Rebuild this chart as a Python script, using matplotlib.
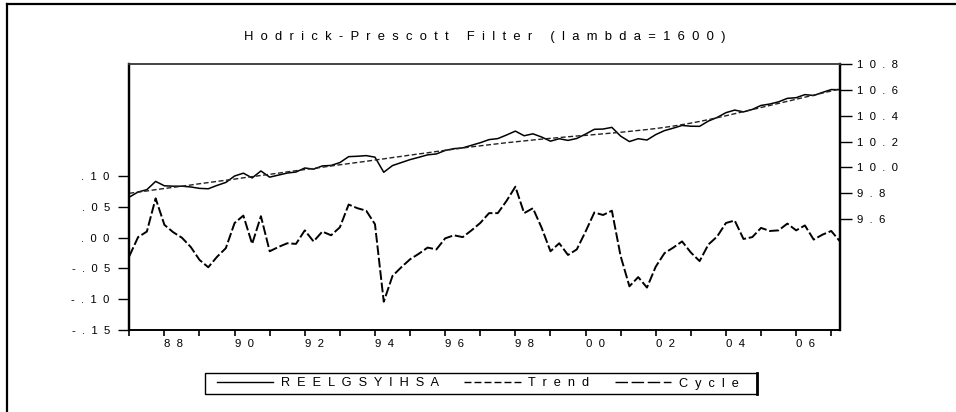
import numpy as np
import matplotlib
matplotlib.use('Agg')
import matplotlib.pyplot as plt
from matplotlib.lines import Line2D
from matplotlib.patches import Rectangle

plt.rcParams['font.family'] = ['Liberation Sans', 'DejaVu Sans']
plt.rcParams['lines.scale_dashes'] = False

# quarterly data, 1987Q1 - 2007Q2
start_year = 1987
series = [9.770, 9.810, 9.828, 9.892, 9.858, 9.855, 9.855, 9.849, 9.838, 9.835,
          9.861, 9.884, 9.934, 9.956, 9.919, 9.973, 9.925, 9.941, 9.957, 9.965,
          9.996, 9.987, 10.012, 10.016, 10.038, 10.084, 10.087, 10.092, 10.080, 9.963,
          10.015, 10.038, 10.061, 10.079, 10.098, 10.105, 10.132, 10.146, 10.152, 10.172,
          10.192, 10.216, 10.224, 10.252, 10.282, 10.246, 10.261, 10.236, 10.204, 10.223,
          10.210, 10.225, 10.259, 10.296, 10.298, 10.311, 10.243, 10.201, 10.223, 10.213,
          10.255, 10.286, 10.305, 10.326, 10.320, 10.319, 10.360, 10.388, 10.425, 10.445,
          10.431, 10.450, 10.481, 10.492, 10.509, 10.536, 10.541, 10.565, 10.558, 10.582,
          10.604, 10.603]
trend = [9.800, 9.809, 9.818, 9.828, 9.837, 9.846, 9.855, 9.864, 9.874, 9.883,
         9.892, 9.901, 9.910, 9.920, 9.929, 9.938, 9.947, 9.956, 9.966, 9.975,
         9.984, 9.993, 10.002, 10.012, 10.021, 10.030, 10.039, 10.048, 10.058, 10.067,
         10.077, 10.086, 10.096, 10.105, 10.114, 10.124, 10.133, 10.142, 10.151, 10.160,
         10.168, 10.176, 10.184, 10.192, 10.199, 10.206, 10.213, 10.220, 10.226, 10.232,
         10.238, 10.244, 10.249, 10.255, 10.261, 10.267, 10.273, 10.280, 10.287, 10.294,
         10.302, 10.311, 10.321, 10.332, 10.344, 10.357, 10.371, 10.386, 10.401, 10.417,
         10.433, 10.449, 10.465, 10.481, 10.497, 10.513, 10.529, 10.545, 10.561, 10.577,
         10.593, 10.609]
cycle = [-0.030, 0.001, 0.010, 0.064, 0.021, 0.009, 0.000, -0.015, -0.036, -0.048,
         -0.031, -0.017, 0.024, 0.036, -0.010, 0.035, -0.022, -0.015, -0.009, -0.010,
         0.012, -0.006, 0.010, 0.004, 0.017, 0.054, 0.048, 0.044, 0.022, -0.104,
         -0.062, -0.048, -0.035, -0.026, -0.016, -0.019, -0.001, 0.004, 0.001, 0.012,
         0.024, 0.040, 0.040, 0.060, 0.083, 0.040, 0.048, 0.016, -0.022, -0.009,
         -0.028, -0.019, 0.010, 0.041, 0.037, 0.044, -0.030, -0.079, -0.064, -0.081,
         -0.047, -0.025, -0.016, -0.006, -0.024, -0.038, -0.011, 0.002, 0.024, 0.028,
         -0.002, 0.001, 0.016, 0.011, 0.012, 0.023, 0.012, 0.020, -0.003, 0.005,
         0.011, -0.006]

left_ticks = [0.10, 0.05, 0.00, -0.05, -0.10, -0.15]
left_labels = ['.10', '.05', '.00', '-.05', '-.10', '-.15']
right_ticks = [9.6, 9.8, 10.0, 10.2, 10.4, 10.6, 10.8]
right_labels = ['9.6', '9.8', '10.0', '10.2', '10.4', '10.6', '10.8']
year_ticks = list(range(1987, 2008))
names = ['REELGSYIHSA', 'Trend', 'Cycle']
title = 'Hodrick-Prescott Filter (lambda=1600)'


def spaced(s):
    return '  '.join(s)


x = start_year + np.arange(len(cycle)) / 4.0

fig = plt.figure(figsize=(9.56, 4.12), dpi=100)
fig.patch.set_facecolor('white')
ax = fig.add_axes([129.3 / 956, 1 - 330 / 412, (840 - 129.3) / 956, (330 - 64.3) / 412])
ax2 = ax.twinx()

ax.plot(x, cycle, color='k', lw=1.4, dashes=(7, 2))
ax2.plot(x, series, color='k', lw=1.1)
ax2.plot(x, trend, color='#222222', lw=1.0, dashes=(3.6, 1.8))

ax.set_xlim(x[0], x[-1])
ax.set_ylim(-0.15, 0.282)
ax2.set_ylim(8.74, 10.8)

ax.set_yticks(left_ticks)
ax.set_yticklabels([spaced(s) for s in left_labels])
ax2.set_yticks(right_ticks)
ax2.set_yticklabels([spaced(s) for s in right_labels])
ax.set_xticks(year_ticks)
ax.set_xticklabels([spaced(str(y)[2:]) if y % 2 == 0 else '' for y in year_ticks], ha='left')

ax.tick_params(axis='y', direction='out', length=8, width=1, pad=6, labelsize=8.2)
ax2.tick_params(axis='y', direction='out', length=8.5, width=1, pad=3.5, labelsize=8.2)
ax.tick_params(axis='x', direction='out', length=4, width=1.2, pad=2.5, labelsize=8.2)

for a in (ax, ax2):
    a.spines['left'].set_linewidth(1.6)
    a.spines['right'].set_linewidth(1.6)
    a.spines['bottom'].set_linewidth(1.2)
    a.spines['top'].set_linewidth(1.2)
    a.spines['top'].set_color('#444444')

fig.text(485 / 956, 1 - 37 / 412, spaced(title), ha='center', va='center', fontsize=9.4)

# outer frame
fig.add_artist(Line2D([7 / 956, 7 / 956], [0, 1 - 4 / 412], color='k', lw=1.6))
fig.add_artist(Line2D([7 / 956, 1], [1 - 4 / 412, 1 - 4 / 412], color='k', lw=1.6))

# legend box
fig.add_artist(Rectangle((205 / 956, 1 - 394 / 412), (757 - 205) / 956, (394 - 373) / 412,
                         transform=fig.transFigure, fill=False, edgecolor='k', lw=1.0))
fig.add_artist(Line2D([757 / 956, 757 / 956], [1 - 394 / 412, 1 - 373 / 412], color='k', lw=2.0))

handles = [Line2D([], [], color='k', lw=1.0),
           Line2D([], [], color='k', lw=1.0, dashes=(5, 2.2)),
           Line2D([], [], color='k', lw=1.0, dashes=(9, 2.6))]
leg = fig.legend(handles, [spaced(n) for n in names], loc='center left',
                 bbox_to_anchor=(217 / 956, 1 - 383.5 / 412), ncol=3, fontsize=9.2,
                 frameon=False, handlelength=4.4, borderpad=0, handletextpad=0.6,
                 columnspacing=2.0, borderaxespad=0)

fig.savefig('out.png', dpi=100)
